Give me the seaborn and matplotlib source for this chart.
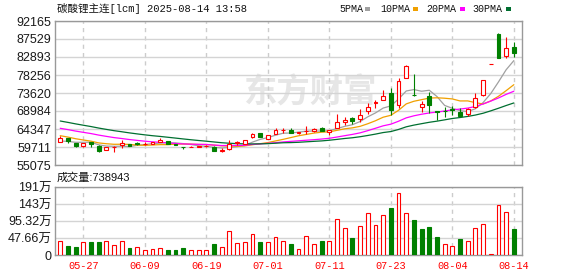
import numpy as np
import pandas as pd
import matplotlib
matplotlib.use("Agg")
import matplotlib.pyplot as plt
import seaborn as sns
from matplotlib.patches import Rectangle

sns.set_theme(style="white")
plt.rcParams['font.family'] = ['Liberation Sans', 'Noto Sans CJK SC', 'DejaVu Sans']

# ---------------- data ----------------
dates = ["05-22", "05-23", "05-26", "05-27", "05-28", "05-29", "05-30", "06-03", "06-04", "06-05",
         "06-06", "06-09", "06-10", "06-11", "06-12", "06-13", "06-16", "06-17", "06-18", "06-19",
         "06-20", "06-23", "06-24", "06-25", "06-26", "06-27", "06-30", "07-01", "07-02", "07-03",
         "07-04", "07-07", "07-08", "07-09", "07-10", "07-11", "07-14", "07-15", "07-16", "07-17",
         "07-18", "07-21", "07-22", "07-23", "07-24", "07-25", "07-28", "07-29", "07-30", "07-31",
         "08-01", "08-04", "08-05", "08-06", "08-07", "08-08", "08-11", "08-12", "08-13", "08-14"]

open_ = [61076, 61952, 60741, 59968, 61076, 60046, 58900, 59700, 60100, 60450,
         60818, 60550, 60483, 60921, 61260, 60405, 59800, 59634, 59800, 59850,
         59788, 58780, 59196, 60850, 60560, 62210, 63317, 61849, 63059, 64050,
         64167, 63317, 63800, 63755, 64682, 63650, 64527, 66151, 67259, 66846,
         69061, 70967, 71900, 73620, 70450, 77600, 73182, 70092, 72847, 69000,
         69100, 69500, 68804, 68134, 69937, 73105, 81000, 88817, 83227, 85400]
high = [62622, 61952, 60741, 60741, 61076, 60226, 59750, 59891, 61600, 60480,
        60900, 60950, 61000, 61952, 61300, 60405, 59800, 59850, 60000, 60100,
        59850, 59376, 61514, 61338, 61600, 63200, 63350, 62800, 64527, 64527,
        64682, 63652, 65120, 64682, 64800, 64100, 68212, 67516, 67516, 69500,
        70967, 71817, 74393, 74830, 77406, 80750, 78437, 71560, 73800, 69100,
        70100, 70300, 69835, 69700, 73697, 77000, 81000, 88997, 88121, 86700]
low = [61076, 60818, 59788, 59711, 59634, 58500, 58900, 58423, 59380, 59850,
       60300, 60200, 60400, 60900, 60500, 60100, 59118, 59600, 59650, 59700,
       58750, 58346, 58938, 60226, 60500, 62150, 62300, 61800, 63000, 63240,
       63350, 63059, 63059, 63700, 63850, 62900, 64500, 65378, 65635, 66228,
       68134, 69680, 71850, 67954, 69680, 77400, 72925, 68650, 68546, 66700,
       67550, 67954, 67516, 67600, 69800, 72900, 81000, 82635, 82712, 82900]
close = [62107, 61260, 60046, 60741, 60560, 58758, 59650, 59760, 60870, 60050,
         60400, 60612, 60921, 61595, 60560, 60148, 59700, 59790, 59850, 59950,
         58800, 58860, 60405, 60921, 61514, 63137, 62365, 62725, 64012, 64090,
         63394, 63497, 63832, 64347, 63910, 63990, 66228, 66666, 66486, 67954,
         70092, 71224, 72925, 69330, 76711, 80500, 73027, 70800, 70600, 68650,
         68984, 69370, 67774, 69422, 72255, 76968, 81000, 82712, 85133, 84000]
volume = [389000, 262000, 235000, 362000, 371000, 371000, 389000, 280000, 389000, 208000,
          226000, 145000, 172000, 199000, 154000, 154000, 208000, 145000, 145000, 145000,
          317000, 226000, 660000, 335000, 362000, 579000, 371000, 362000, 497000, 389000,
          317000, 175000, 530000, 318000, 381000, 381000, 999000, 754000, 463000, 808000,
          1190000, 835000, 1108000, 1307000, 1734000, 1190000, 980000, 735000, 790000, 518000,
          318000, 245000, 436000, 400000, 754000, 872000, 15000, 1407000, 1217000, 738943]

# closes before the visible window (implied by the moving-average lines)
prior_close = [72000, 71500, 71200, 70800, 70400, 70000, 69600, 69200, 68800, 68200,
               68000, 67600, 67200, 66900, 66600, 66300, 66000, 65700, 65300, 64720,
               64800, 64300, 64000, 63600, 63220, 61800, 61200, 60693, 60500]

price_ticks = [55075, 59711, 64347, 68984, 73620, 78256, 82893, 87529, 92165]
vol_ticks = [0, 476600, 953200, 1429800, 1906400]
vol_tick_labels = ["0", "47.66万", "95.32万", "143万", "191万"]
date_tick_labels = ["05-27", "06-09", "06-19", "07-01", "07-11", "07-23", "08-04", "08-14"]
ma_names = ["5PMA", "10PMA", "20PMA", "30PMA"]
ma_windows = [5, 10, 20, 30]
ma_colors = ["#a0a0a0", "#f0a000", "#ff00ff", "#006f30"]
title = "碳酸锂主连[lcm] 2025-08-14 13:58"

RED = "#ff0000"
GREEN = "#008000"
GRID = "#d4d4d4"
SPINE = "#999999"

# ---------------- figure ----------------
W, H = 578, 276
fig = plt.figure(figsize=(W / 100, H / 100), dpi=100)


def px_axes(x0, y0, x1, y1):
    return fig.add_axes([x0 / W, 1 - y1 / H, (x1 - x0) / W, (y1 - y0) / H])


ax = px_axes(55, 21, 522, 165)
axv = px_axes(55, 187, 522, 255)

df = pd.DataFrame({"i": np.arange(len(dates)), "date": dates, "open": open_, "high": high,
                   "low": low, "close": close, "volume": volume})
all_close = pd.Series(prior_close + close, dtype=float)
n_prior = len(prior_close)
for name, w in zip(ma_names, ma_windows):
    df[name] = all_close.rolling(w).mean().iloc[n_prior:].to_numpy()

# watermark
ax.text(310 / W, 1 - 93 / H, "东方财富", transform=fig.transFigure, ha="center", va="center",
        fontsize=24, fontweight="bold", color="#e6e6e6", family=["Noto Sans CJK SC"], zorder=0.5)

# moving averages
for name, col in zip(ma_names, ma_colors):
    sns.lineplot(data=df, x="i", y=name, ax=ax, color=col, linewidth=0.9, legend=False, zorder=2)

# candles
o = df["open"].to_numpy(float)
c = df["close"].to_numpy(float)
up = c >= o
ccol = np.where(up, RED, GREEN)
ax.vlines(df["i"], df["low"], df["high"], colors=ccol, linewidth=0.8, zorder=3)
ax.bar(df["i"], np.abs(c - o), bottom=np.minimum(o, c), width=0.5,
       color=np.where(up, "white", GREEN), edgecolor=ccol, linewidth=0.8, zorder=4)

# volume (colour by close vs previous close)
prev = np.concatenate([[prior_close[-1]], c[:-1]])
vup = c >= prev
vcol = np.where(vup, RED, GREEN)
axv.bar(df["i"], df["volume"], width=0.5, color=np.where(vup, "white", GREEN),
        edgecolor=vcol, linewidth=0.8, zorder=3)

# axes styling
tick_pos = [dates.index(d) for d in date_tick_labels]
for a in (ax, axv):
    a.set_xlim(-0.68, 60.06)
    a.set_xlabel("")
    a.set_ylabel("")
    a.set_axisbelow(True)
    a.set_xticks(tick_pos)
    a.grid(axis="y", color=GRID, linewidth=1.0, linestyle="-")
    a.grid(axis="x", color="#cccccc", linewidth=1.0, linestyle=(0, (3, 3)))
    a.tick_params(length=0, pad=2.5, labelsize=9, labelcolor="#1a1a1a")
    for s in a.spines.values():
        s.set_visible(True)
        s.set_color(SPINE)
        s.set_linewidth(1.0)

ax.set_ylim(price_ticks[0], price_ticks[-1])
ax.set_yticks(price_ticks)
ax.set_yticklabels([str(t) for t in price_ticks])
ax.set_xticklabels([])

axv.set_ylim(vol_ticks[0], vol_ticks[-1])
axv.set_yticks(vol_ticks)
axv.set_yticklabels(vol_tick_labels)
axv.set_xticklabels(date_tick_labels, color=RED, fontsize=7.4, family=["Liberation Mono"])
axv.tick_params(axis="x", pad=4)

# texts
fig.text(57 / W, 1 - 8.5 / H, title, ha="left", va="center", fontsize=7.6,
         family=["Liberation Mono", "Noto Sans CJK SC"], color="#111111")
fig.text(57 / W, 1 - 177.5 / H, f"成交量:{volume[-1]}", ha="left", va="center", fontsize=8,
         family=["Liberation Sans", "Noto Sans CJK SC"], color="#111111")

leg_text_x = [339, 380, 426, 472]
leg_box_x = [365, 413, 460, 506]
for name, col, tx, bx in zip(ma_names, ma_colors, leg_text_x, leg_box_x):
    fig.text(tx / W, 1 - 8.5 / H, name, ha="left", va="center", fontsize=7.2,
             family=["Liberation Mono"], color="#111111")
    fig.patches.append(Rectangle((bx / W, 1 - 10.5 / H), 5 / W, 4 / H, transform=fig.transFigure,
                                 facecolor=col, edgecolor="none"))

fig.savefig("out.png", dpi=100)
